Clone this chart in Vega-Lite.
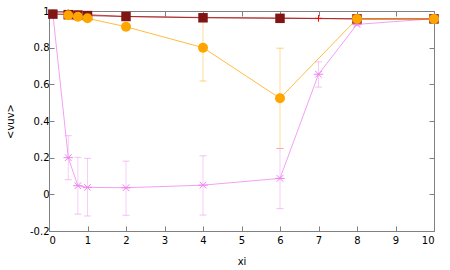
{
  "$schema": "https://vega.github.io/schema/vega-lite/v6.json",
  "width": 385,
  "height": 220,
  "autosize": {"type": "none"},
  "padding": {"left": 49, "top": 11, "right": 16, "bottom": 39},
  "background": "white",
  "config": {
    "view": {"stroke": null},
    "font": "DejaVu Sans",
    "axis": {"labelFont": "DejaVu Sans", "titleFont": "DejaVu Sans", "labelFontSize": 10, "titleFontSize": 10, "titleFontWeight": "normal", "labelColor": "#000", "titleColor": "#000", "domainColor": "#808080", "tickColor": "#808080", "grid": false, "tickSize": -5}
  },
  "data": {"values": [
    {"s": "violet", "x": 0.1, "y": 0.985},
    {"s": "violet", "x": 0.5, "y": 0.20, "lo": 0.08, "hi": 0.32},
    {"s": "violet", "x": 0.75, "y": 0.047, "lo": -0.108, "hi": 0.202},
    {"s": "violet", "x": 1, "y": 0.038, "lo": -0.118, "hi": 0.196},
    {"s": "violet", "x": 2, "y": 0.036, "lo": -0.114, "hi": 0.181},
    {"s": "violet", "x": 4, "y": 0.05, "lo": -0.113, "hi": 0.21},
    {"s": "violet", "x": 6, "y": 0.087, "lo": -0.078, "hi": 0.25},
    {"s": "violet", "x": 7, "y": 0.655, "lo": 0.585, "hi": 0.723},
    {"s": "violet", "x": 8, "y": 0.927, "lo": 0.92, "hi": 0.934},
    {"s": "violet", "x": 10, "y": 0.958},
    {"s": "red", "x": 0.1, "y": 0.99},
    {"s": "red", "x": 0.5, "y": 0.99},
    {"s": "red", "x": 0.75, "y": 0.985},
    {"s": "red", "x": 1, "y": 0.98},
    {"s": "red", "x": 2, "y": 0.97},
    {"s": "red", "x": 4, "y": 0.965},
    {"s": "red", "x": 6, "y": 0.962},
    {"s": "red", "x": 7, "y": 0.96},
    {"s": "red", "x": 8, "y": 0.957},
    {"s": "red", "x": 10, "y": 0.957},
    {"s": "darkred", "x": 0.1, "y": 0.983},
    {"s": "darkred", "x": 0.5, "y": 0.98},
    {"s": "darkred", "x": 0.75, "y": 0.978},
    {"s": "darkred", "x": 1, "y": 0.975},
    {"s": "darkred", "x": 2, "y": 0.97},
    {"s": "darkred", "x": 4, "y": 0.963},
    {"s": "darkred", "x": 6, "y": 0.96},
    {"s": "darkred", "x": 8, "y": 0.957},
    {"s": "darkred", "x": 10, "y": 0.957},
    {"s": "orange", "x": 0.5, "y": 0.977},
    {"s": "orange", "x": 0.75, "y": 0.969},
    {"s": "orange", "x": 1, "y": 0.96},
    {"s": "orange", "x": 2, "y": 0.914},
    {"s": "orange", "x": 4, "y": 0.80, "lo": 0.618, "hi": 0.982},
    {"s": "orange", "x": 6, "y": 0.524, "lo": 0.25, "hi": 0.797},
    {"s": "orange", "x": 8, "y": 0.957},
    {"s": "orange", "x": 10, "y": 0.957}
  ]},
  "resolve": {"axis": {"x": "independent", "y": "independent"}},
  "layer": [
    {
      "transform": [{"filter": "datum.lo != null"}],
      "mark": {"type": "rule", "strokeWidth": 1, "opacity": 0.4},
      "encoding": {
        "x": {"field": "x", "type": "quantitative", "scale": {"domain": [0, 10], "nice": false}, "axis": {"orient": "bottom", "title": "xi", "values": [0,1,2,3,4,5,6,7,8,9,10], "format": "d", "labelPadding": 9, "titlePadding": 11}},
        "y": {"field": "lo", "type": "quantitative", "scale": {"domain": [-0.2, 1], "nice": false}, "axis": {"orient": "left", "title": "<vuv>", "values": [-0.2,0,0.2,0.4,0.6,0.8,1], "format": "~g", "labelPadding": 5, "titlePadding": 14, "labelExpr": "replace(datum.label, '−', '-')"}},
        "y2": {"field": "hi"},
        "color": {"field": "s", "type": "nominal", "scale": {"domain": ["violet", "red", "darkred", "orange"], "range": ["#ee82ee", "#e02020", "#801515", "#ffa500"]}, "legend": null}
      }
    },
    {
      "transform": [{"filter": "datum.lo != null"}],
      "mark": {"type": "tick", "orient": "horizontal", "size": 7, "thickness": 1, "opacity": 0.5},
      "encoding": {
        "x": {"field": "x", "type": "quantitative", "axis": null},
        "y": {"field": "lo", "type": "quantitative", "axis": null},
        "color": {"field": "s", "type": "nominal", "legend": null}
      }
    },
    {
      "transform": [{"filter": "datum.lo != null"}],
      "mark": {"type": "tick", "orient": "horizontal", "size": 7, "thickness": 1, "opacity": 0.5},
      "encoding": {
        "x": {"field": "x", "type": "quantitative", "axis": null},
        "y": {"field": "hi", "type": "quantitative", "axis": null},
        "color": {"field": "s", "type": "nominal", "legend": null}
      }
    },
    {
      "mark": {"type": "line", "strokeWidth": 1, "opacity": 0.75},
      "encoding": {
        "x": {"field": "x", "type": "quantitative", "axis": {"orient": "top", "labels": false, "title": null, "values": [0,1,2,3,4,5,6,7,8,9,10]}},
        "y": {"field": "y", "type": "quantitative", "axis": {"orient": "right", "labels": false, "title": null, "values": [-0.2,0,0.2,0.4,0.6,0.8,1]}},
        "color": {"field": "s", "type": "nominal", "legend": null},
        "detail": {"field": "s"},
        "order": {"field": "x", "type": "quantitative"}
      }
    },
    {
      "transform": [{"filter": "datum.s == 'violet'"}],
      "mark": {"type": "point", "shape": "M-1,0L1,0M-0.7,-0.7L0.7,0.7M-0.7,0.7L0.7,-0.7", "filled": false, "size": 90, "strokeWidth": 1, "color": "#ee82ee", "opacity": 1},
      "encoding": {"x": {"field": "x", "type": "quantitative", "axis": null}, "y": {"field": "y", "type": "quantitative", "axis": null}}
    },
    {
      "transform": [{"filter": "datum.s == 'red'"}],
      "mark": {"type": "point", "shape": "M-1,0L1,0M0,-1L0,1", "filled": false, "size": 45, "strokeWidth": 1, "color": "#ff0000", "opacity": 1},
      "encoding": {"x": {"field": "x", "type": "quantitative", "axis": null}, "y": {"field": "y", "type": "quantitative", "axis": null}}
    },
    {
      "transform": [{"filter": "datum.s == 'darkred'"}],
      "mark": {"type": "square", "size": 90, "color": "#801515", "opacity": 1},
      "encoding": {"x": {"field": "x", "type": "quantitative", "axis": null}, "y": {"field": "y", "type": "quantitative", "axis": null}}
    },
    {
      "transform": [{"filter": "datum.s == 'orange'"}],
      "mark": {"type": "circle", "size": 100, "color": "#ffa500", "opacity": 1},
      "encoding": {"x": {"field": "x", "type": "quantitative", "axis": null}, "y": {"field": "y", "type": "quantitative", "axis": null}}
    }
  ]
}
